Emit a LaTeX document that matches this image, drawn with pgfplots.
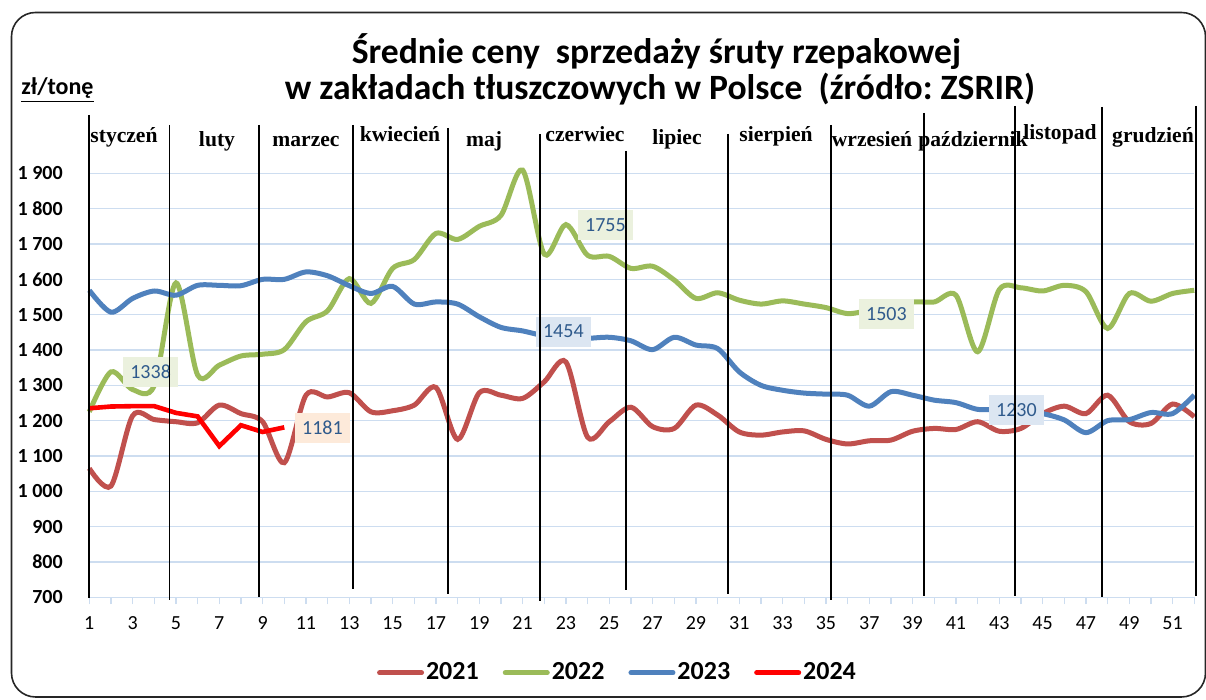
\documentclass[border=0pt]{standalone}
\usepackage{pgfplots}
\pgfplotsset{compat=1.18}
\usepackage{fontspec}
\setmainfont{Carlito}
\newfontfamily\monthfont{Liberation Serif}
\frenchspacing
\definecolor{c21}{HTML}{C0504D}
\definecolor{c22}{HTML}{9BBB59}
\definecolor{c23}{HTML}{4F81BD}
\definecolor{c24}{HTML}{FF0000}
\definecolor{gridc}{RGB}{205,221,240}
\definecolor{lgreen}{HTML}{EBF1DE}
\definecolor{lblue}{HTML}{DCE6F2}
\definecolor{lpeach}{HTML}{FDEADA}
\definecolor{labtext}{HTML}{2F5A8C}
\newcommand{\pp}[2]{({(#1-89.3)*0.5pt},{(597.3-#2)*0.5pt})}
\begin{document}
\begin{tikzpicture}
\useasboundingbox \pp{0}{0} rectangle \pp{1206}{700};
\begin{axis}[
  at={(0,0)}, anchor=south west,
  scale only axis, width=552.5pt, height=220.8pt,
  xmin=1, xmax=52, ymin=700, ymax=1950,
  clip=false,
  /pgf/number format/assume math mode=true,
  axis line style={draw=none},
  axis x line*=bottom, axis y line*=left,
  xtick={1,3,...,51}, minor xtick={2,4,...,52},
  tick align=outside,
  major tick length=3.5pt, minor tick length=3.5pt,
  xtick style={color=gridc, line width=0.75pt},
  ytick style={draw=none},
  ytick={700,800,...,1900},
  yticklabels={700,800,900,1 000,1 100,1 200,1 300,1 400,1 500,1 600,1 700,1 800,1 900},
  ymajorgrids, grid style={gridc, line width=0.7pt},
  yticklabel style={font=\bfseries\fontsize{10}{12}\selectfont, inner sep=0pt, xshift=-9.6pt},
  xticklabel style={font=\fontsize{10}{12}\selectfont, inner sep=0pt, yshift=-6pt},
  legend columns=4,
  legend style={at={(0.478,-0.171)}, anchor=center, draw=none, fill=none, inner sep=0pt,
    font=\bfseries\fontsize{13}{15}\selectfont,
    /tikz/every even column/.append style={column sep=11pt},
    nodes={inner sep=1pt}},
  legend image code/.code={\draw[#1, line width=2.5pt, line cap=round] (0pt,0pt) -- (21pt,0pt);},
]
\addplot[c21, line width=2.5pt, smooth] coordinates {
(1,1065)(2,1015)(3,1214)(4,1203)(5,1197)(6,1194)(7,1244)(8,1220)(9,1197)(10,1081)
(11,1272)(12,1267)(13,1279)(14,1225)(15,1228)(16,1244)(17,1294)(18,1147)(19,1279)(20,1272)
(21,1263)(22,1310)(23,1366)(24,1153)(25,1197)(26,1238)(27,1183)(28,1178)(29,1244)(30,1216)
(31,1168)(32,1159)(33,1168)(34,1171)(35,1147)(36,1134)(37,1143)(38,1145)(39,1170)(40,1178)
(41,1175)(42,1197)(43,1170)(44,1178)(45,1220)(46,1241)(47,1220)(48,1272)(49,1197)(50,1192)
(51,1247)(52,1211)};
\addlegendentry{2021}
\addplot[c22, line width=2.5pt, smooth] coordinates {
(1,1225)(2,1338)(3,1288)(4,1300)(5,1590)(6,1329)(7,1357)(8,1383)(9,1388)(10,1401)
(11,1480)(12,1511)(13,1602)(14,1532)(15,1631)(16,1656)(17,1730)(18,1713)(19,1750)(20,1781)
(21,1909)(22,1671)(23,1755)(24,1668)(25,1665)(26,1631)(27,1637)(28,1598)(29,1546)(30,1562)
(31,1541)(32,1530)(33,1539)(34,1530)(35,1520)(36,1503)(37,1512)(38,1522)(39,1536)(40,1536)
(41,1555)(42,1395)(43,1571)(44,1576)(45,1567)(46,1583)(47,1565)(48,1461)(49,1560)(50,1538)
(51,1560)(52,1569)};
\addlegendentry{2022}
\addplot[c23, line width=2.5pt, smooth] coordinates {
(1,1569)(2,1507)(3,1546)(4,1567)(5,1555)(6,1583)(7,1583)(8,1582)(9,1600)(10,1600)
(11,1621)(12,1610)(13,1582)(14,1560)(15,1580)(16,1530)(17,1536)(18,1530)(19,1494)(20,1464)
(21,1454)(22,1440)(23,1433)(24,1433)(25,1436)(26,1426)(27,1401)(28,1436)(29,1414)(30,1404)
(31,1338)(32,1300)(33,1286)(34,1278)(35,1275)(36,1272)(37,1241)(38,1282)(39,1272)(40,1258)
(41,1251)(42,1232)(43,1232)(44,1228)(45,1220)(46,1202)(47,1166)(48,1200)(49,1203)(50,1223)
(51,1220)(52,1272)};
\addlegendentry{2023}
\addplot[c24, line width=2.3pt] coordinates {
(1,1235)(2,1240)(3,1241)(4,1241)(5,1222)(6,1212)(7,1128)(8,1187)(9,1168)(10,1181)};
\addlegendentry{2024}
\begin{scope}[every node/.style={inner sep=0pt, minimum width=27.5pt, minimum height=15pt, text=labtext, font=\fontsize{10}{12}\selectfont}]
\node[fill=lgreen] at (axis cs:3.83,1338) {1338};
\node[fill=lpeach] at (axis cs:11.76,1179) {1181};
\node[fill=lgreen] at (axis cs:24.82,1754) {1755};
\node[fill=lblue] at (axis cs:22.88,1452) {1454};
\node[fill=lgreen] at (axis cs:37.79,1501) {1503};
\node[fill=lblue] at (axis cs:43.79,1231) {1230};
\end{scope}
\end{axis}
% border
\draw[line width=0.8pt, rounded corners=12pt, color=black!85] \pp{11.5}{12.5} rectangle \pp{1205.5}{697};
% month dividers
\begin{scope}[line width=0.9pt, black]
\draw \pp{89.2}{115} -- \pp{89.2}{598};
\draw \pp{169.5}{125} -- \pp{169.5}{600};
\draw \pp{258.7}{125} -- \pp{258.7}{597};
\draw \pp{352.9}{125} -- \pp{352.9}{589};
\draw \pp{447.8}{128} -- \pp{447.8}{594};
\draw \pp{539.6}{134} -- \pp{539.6}{601};
\draw \pp{626.3}{151} -- \pp{626.3}{590};
\draw \pp{727.6}{134} -- \pp{727.6}{594};
\draw \pp{830.8}{125} -- \pp{830.8}{600};
\draw \pp{923.9}{113} -- \pp{923.9}{596};
\draw \pp{1014.8}{106} -- \pp{1014.8}{596};
\draw \pp{1101.7}{107} -- \pp{1101.7}{597};
\draw \pp{1195.7}{106} -- \pp{1195.7}{596};
\end{scope}
% month labels
\begin{scope}[every node/.style={anchor=base, inner sep=0pt, font=\monthfont\bfseries\fontsize{10.8}{13}\selectfont}]
\node at \pp{124}{143} {styczeń};
\node at \pp{217}{147} {luty};
\node at \pp{306}{147} {marzec};
\node at \pp{400}{142} {kwiecień};
\node at \pp{484}{147} {maj};
\node at \pp{585}{141.5} {czerwiec};
\node at \pp{677}{145} {lipiec};
\node at \pp{776}{142} {sierpień};
\node at \pp{872}{147} {wrzesień};
\node at \pp{973}{147} {październik};
\node at \pp{1060}{140} {listopad};
\node at \pp{1153}{143} {grudzień};
\end{scope}
% title
\node[anchor=base, inner sep=0pt, font=\bfseries\fontsize{17.8}{21}\selectfont] at \pp{656.5}{64} {Średnie ceny\ \ sprzedaży śruty rzepakowej};
\node[anchor=base, inner sep=0pt, font=\bfseries\fontsize{17.8}{21}\selectfont] at \pp{660}{100} {w zakładach tłuszczowych w Polsce\ \ (źródło: ZSRIR)};
\node[anchor=base west, inner sep=0pt, font=\bfseries\fontsize{12}{14}\selectfont] at \pp{21}{95} {\underline{zł/tonę}};
\end{tikzpicture}
\end{document}
